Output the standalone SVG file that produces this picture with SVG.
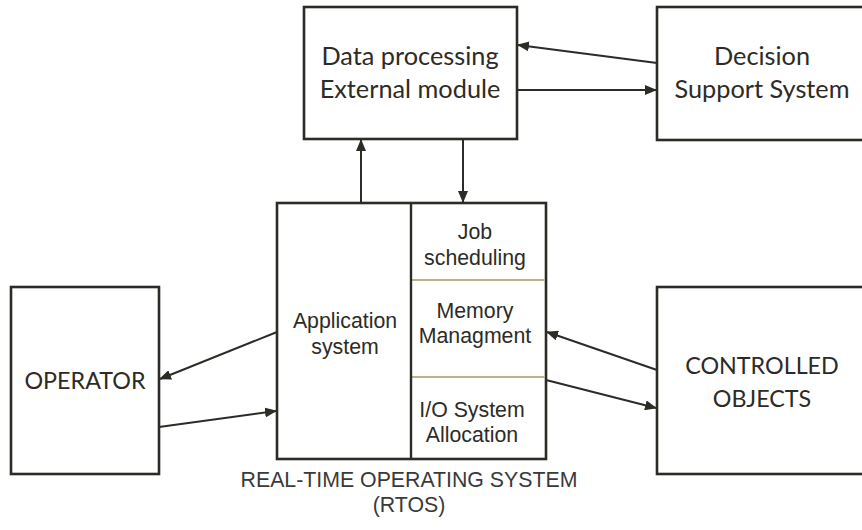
<svg xmlns="http://www.w3.org/2000/svg" width="862" height="530" viewBox="0 0 862 530">
<style>
.box{fill:#fff;stroke:#2d2b26;stroke-width:2.6}
.sep{stroke:#b8b48e;stroke-width:2}
.cal{font-family:Lato,"Open Sans",sans-serif;font-size:25.3px;fill:#2d2b26;text-anchor:middle}
.calc{font-family:Lato,"Open Sans",sans-serif;font-size:23.3px;fill:#2d2b26;text-anchor:middle}
.ar{font-family:"Liberation Sans",Arial,sans-serif;font-size:21.3px;fill:#2d2b26;text-anchor:middle}
.cap{font-family:"Liberation Sans",Arial,sans-serif;font-size:21.3px;fill:#3a3a3a;text-anchor:middle}
.con{stroke:#2d2b26;stroke-width:2;fill:none;marker-end:url(#ah)}
</style>
<defs>
<marker id="ah" markerUnits="userSpaceOnUse" markerWidth="12" markerHeight="10" refX="11" refY="5" orient="auto">
<path d="M0,0 L12,5 L0,10 z" fill="#2d2b26"/>
</marker>
</defs>
<rect width="862" height="530" fill="#fff"/>
<g id="data-processing">
<rect class="box" x="304" y="7" width="213" height="132"/>
<text class="cal" x="410" y="65">Data processing</text>
<text class="cal" x="410" y="98">External module</text>
</g>
<g id="decision-support">
<rect class="box" x="657" y="7" width="210" height="133"/>
<text class="cal" x="762" y="65">Decision</text>
<text class="cal" x="762" y="98">Support System</text>
</g>
<g id="operator">
<rect class="box" x="11" y="287" width="148" height="187"/>
<text class="calc" x="85" y="389">OPERATOR</text>
</g>
<g id="controlled-objects">
<rect class="box" x="657" y="287" width="210" height="187"/>
<text class="calc" x="762" y="374">CONTROLLED</text>
<text class="calc" x="762" y="407">OBJECTS</text>
</g>
<g id="rtos">
<rect class="box" x="277" y="203" width="269" height="256"/>
<line class="sep" x1="412" y1="280" x2="545" y2="280"/>
<line class="sep" x1="412" y1="377" x2="545" y2="377"/>
<line x1="411" y1="203" x2="411" y2="459" stroke="#2d2b26" stroke-width="2.4"/>
<text class="ar" x="345" y="328">Application</text>
<text class="ar" x="345" y="354">system</text>
<text class="ar" x="475" y="239">Job</text>
<text class="ar" x="475" y="265">scheduling</text>
<text class="ar" x="475" y="318">Memory</text>
<text class="ar" x="475" y="343">Managment</text>
<text class="ar" x="472" y="417">I/O System</text>
<text class="ar" x="472" y="442">Allocation</text>
<text class="cap" x="409" y="487">REAL-TIME OPERATING SYSTEM</text>
<text class="cap" x="409" y="512">(RTOS)</text>
</g>
<g id="connectors">
<line class="con" x1="657" y1="63" x2="518" y2="45"/>
<line class="con" x1="517" y1="90" x2="656" y2="90"/>
<line class="con" x1="361" y1="203" x2="361" y2="140"/>
<line class="con" x1="463" y1="139" x2="463" y2="202"/>
<line class="con" x1="277" y1="332" x2="160" y2="379"/>
<line class="con" x1="159" y1="427" x2="276" y2="411"/>
<line class="con" x1="657" y1="370" x2="547" y2="332"/>
<line class="con" x1="546" y1="380" x2="656" y2="408"/>
</g>
</svg>
